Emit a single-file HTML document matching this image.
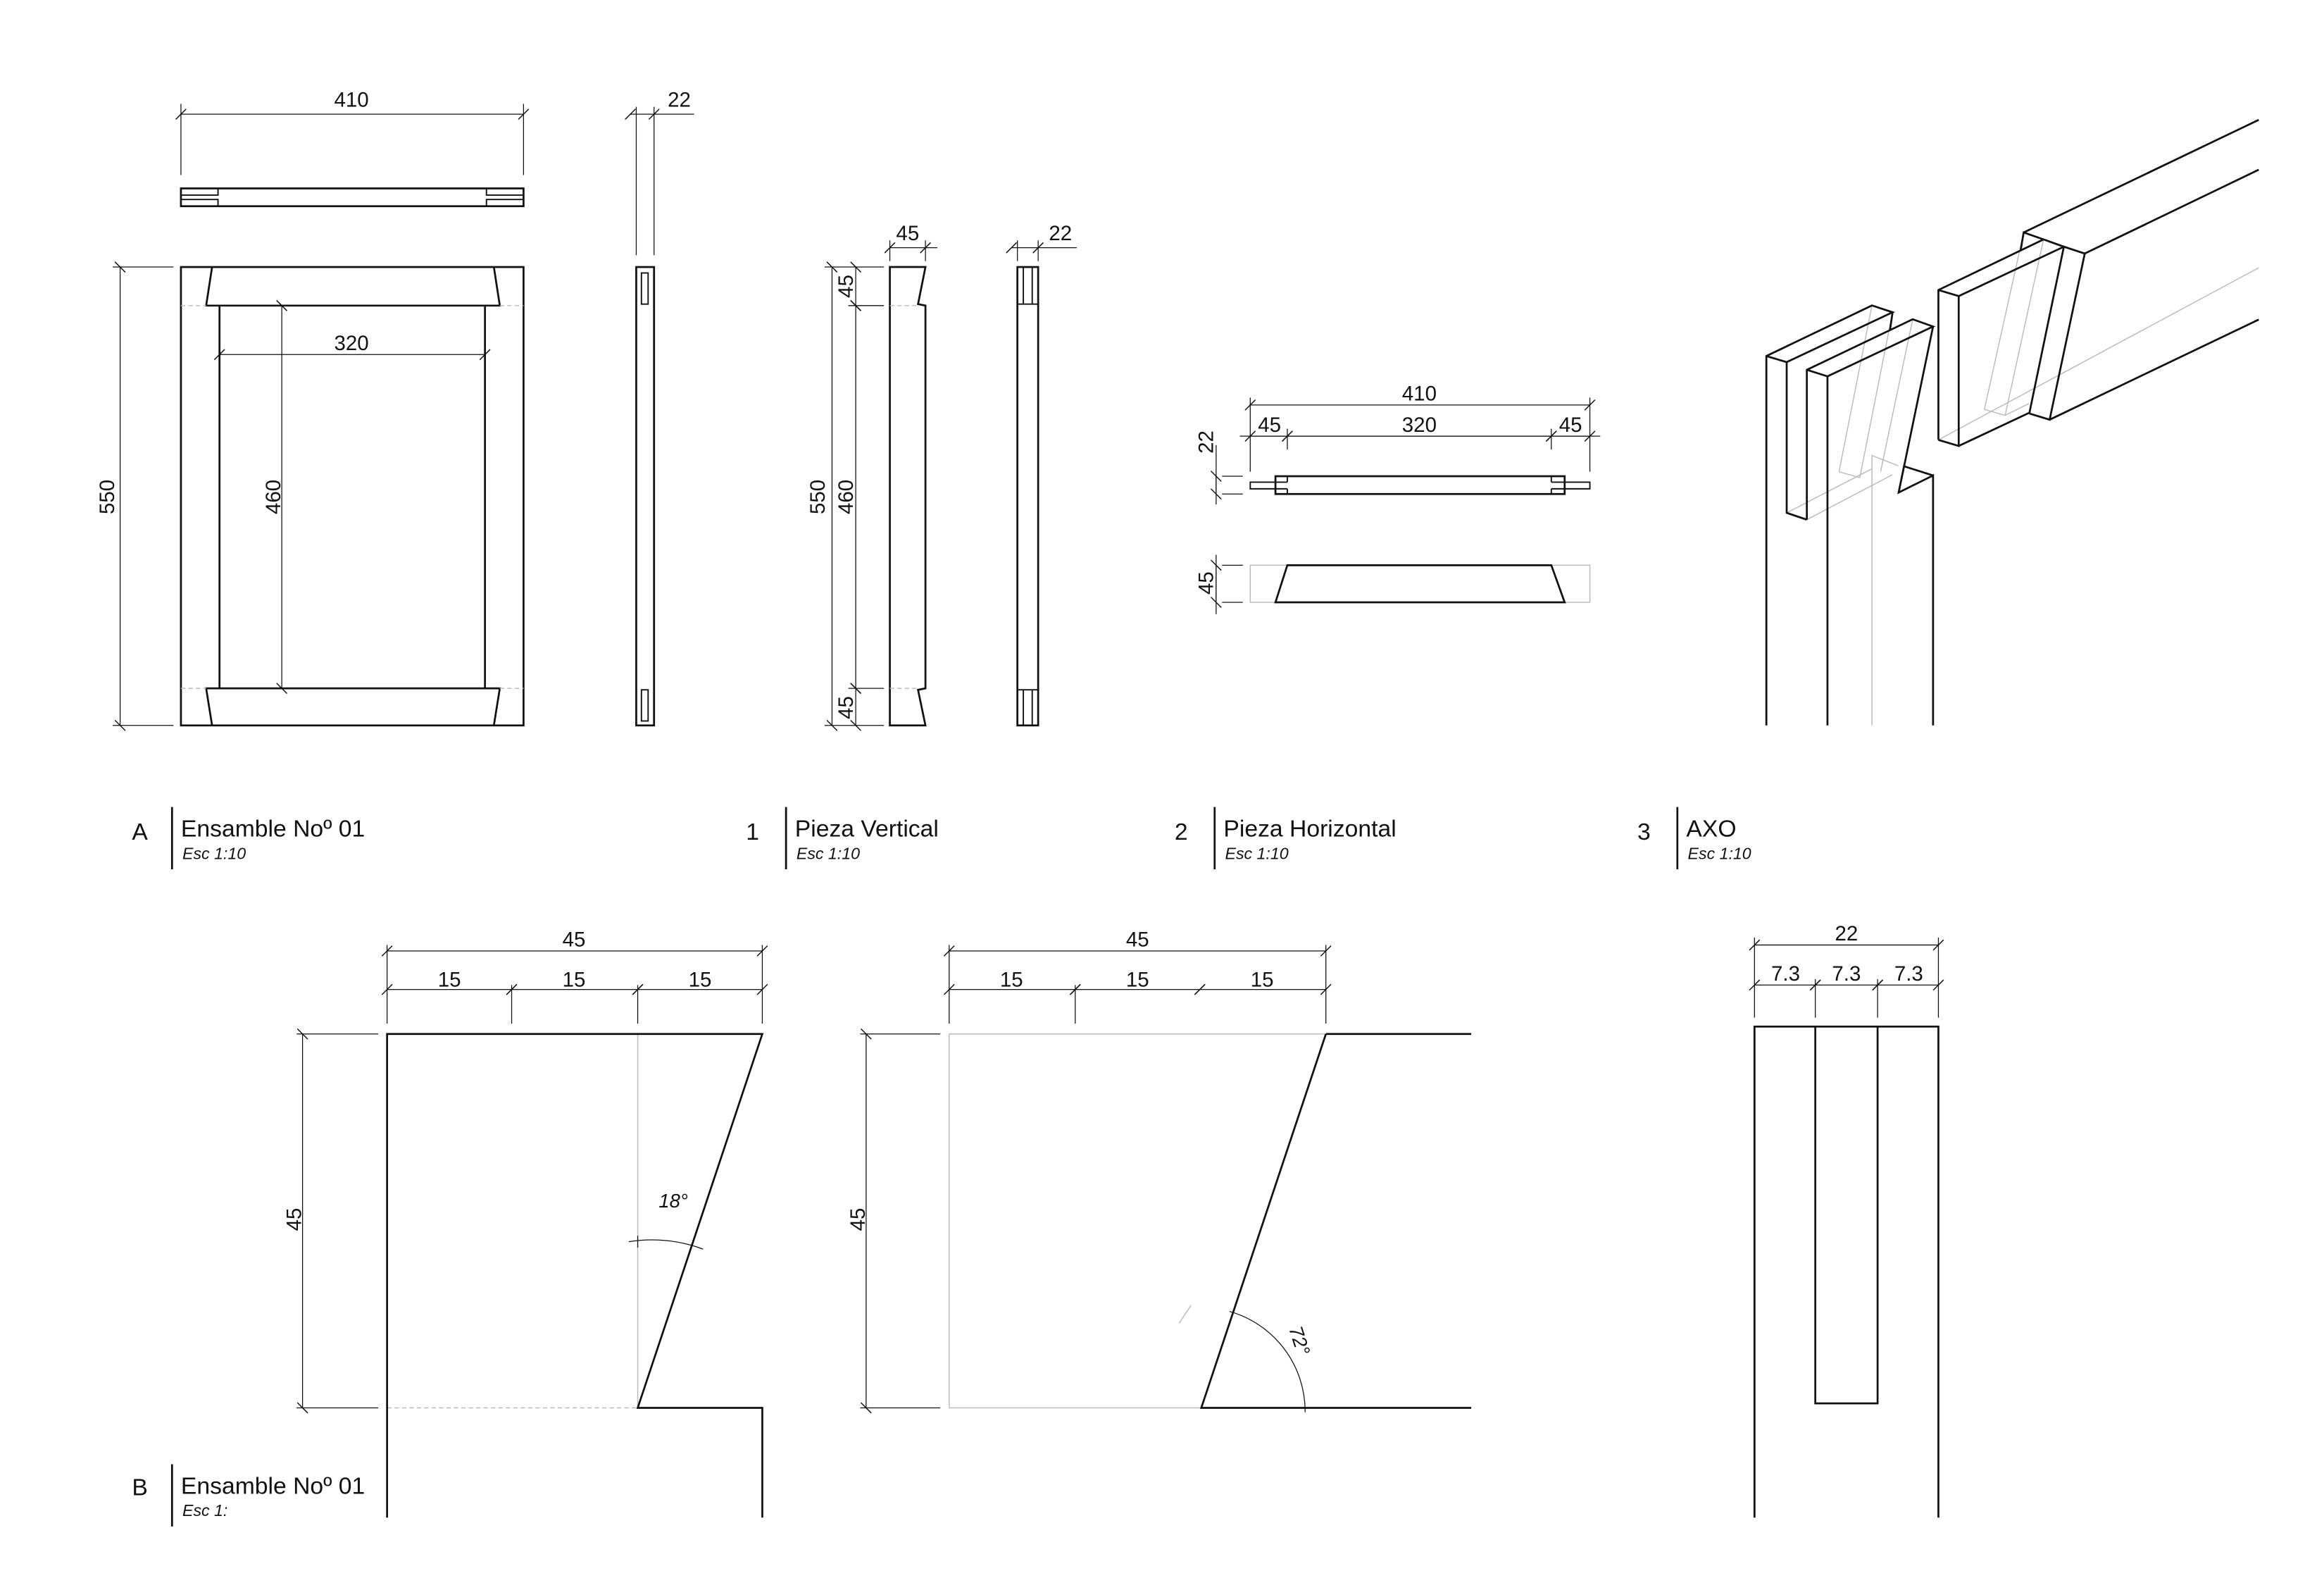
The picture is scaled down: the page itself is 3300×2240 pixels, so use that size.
<!DOCTYPE html>
<html><head><meta charset="utf-8"><style>
html,body{margin:0;padding:0;background:#fff;}
svg{display:block;}
text{font-family:"Liberation Sans",sans-serif;fill:#111;}
.o{stroke:#111;stroke-width:1.3;fill:none;stroke-linejoin:miter;}
.t{stroke:#111;stroke-width:0.9;fill:none;}
.d{stroke:#111;stroke-width:0.6;fill:none;}
.dm{stroke:#111;stroke-width:0.6;fill:none;marker-start:url(#tk);marker-end:url(#tk);}
.g{stroke:#bbb;stroke-width:0.7;fill:none;}
.gd{stroke:#bbb;stroke-width:0.7;fill:none;stroke-dasharray:3 2;}
.dt{font-size:14px;text-anchor:middle;}
.lb{font-size:16px;}
.sc{font-size:11px;font-style:italic;}
</style></head><body>
<svg width="3300" height="2240" viewBox="0 0 1567 1063.7" preserveAspectRatio="none" xmlns="http://www.w3.org/2000/svg">
<defs>
<marker id="tk" markerUnits="userSpaceOnUse" markerWidth="12" markerHeight="12" refX="6" refY="6" orient="auto" viewBox="0 0 12 12">
<path d="M2.5,9.5 L9.5,2.5" stroke="#111" stroke-width="0.7" fill="none"/>
</marker>
</defs>

<!-- ===== A: Frame ===== -->
<rect class="o" x="122" y="127" width="231" height="12"/>
<path class="t" d="M122,131.5 H147 V127 M122,134.5 H147 V139"/>
<path class="t" d="M353,131.5 H328 V127 M353,134.5 H328 V139"/>
<line class="d" x1="122" y1="70" x2="122" y2="118"/><line class="d" x1="353" y1="70" x2="353" y2="118"/>
<line class="dm" x1="122" y1="77" x2="353" y2="77"/>
<text class="dt" x="237" y="72">410</text>
<rect class="o" x="122" y="180" width="231" height="309"/>
<path class="o" d="M143,180 L139,206 H337 L333,180"/>
<path class="o" d="M143,489 L139,464 H337 L333,489"/>
<line class="o" x1="148" y1="206" x2="148" y2="464"/><line class="o" x1="327" y1="206" x2="327" y2="464"/>
<path class="gd" d="M122,206 H139 M337,206 H353 M122,464 H139 M337,464 H353"/>
<line class="d" x1="76" y1="180" x2="117" y2="180"/><line class="d" x1="76" y1="489" x2="117" y2="489"/>
<line class="dm" x1="81" y1="180" x2="81" y2="489"/>
<text class="dt" transform="translate(77,335) rotate(-90)">550</text>
<line class="dm" x1="190" y1="206" x2="190" y2="464"/>
<text class="dt" transform="translate(189,335) rotate(-90)">460</text>
<line class="dm" x1="148" y1="239" x2="327" y2="239"/>
<text class="dt" x="237" y="236">320</text>

<rect class="o" x="429" y="180" width="12" height="309"/>
<rect class="t" x="432.5" y="184" width="4.5" height="21"/>
<rect class="t" x="432.5" y="465" width="4.5" height="21"/>
<line class="d" x1="429" y1="72" x2="429" y2="172"/><line class="d" x1="441" y1="72" x2="441" y2="172"/>
<line class="dm" x1="425" y1="77" x2="441" y2="77"/><line class="d" x1="441" y1="77" x2="468" y2="77"/>
<text class="dt" x="458" y="72">22</text>

<!-- ===== 1 Pieza vertical ===== -->
<path class="o" d="M600,180 H624 L619,205 L624,206 V464 L619,465 L624,489 H600 Z"/>
<path class="gd" d="M600,206 H619 M600,464 H619"/>
<path class="d" d="M556,180 H596 M572,206 H596 M572,464 H596 M556,489 H596"/>
<line class="dm" x1="561" y1="180" x2="561" y2="489"/>
<line class="dm" x1="577" y1="180" x2="577" y2="206"/>
<line class="dm" x1="577" y1="206" x2="577" y2="464"/>
<line class="dm" x1="577" y1="464" x2="577" y2="489"/>
<text class="dt" transform="translate(556,335) rotate(-90)">550</text>
<text class="dt" transform="translate(575,335) rotate(-90)">460</text>
<text class="dt" transform="translate(575,193) rotate(-90)">45</text>
<text class="dt" transform="translate(575,477) rotate(-90)">45</text>
<line class="d" x1="600" y1="162" x2="600" y2="176"/><line class="d" x1="624" y1="162" x2="624" y2="176"/>
<line class="dm" x1="600" y1="167" x2="624" y2="167"/><line class="d" x1="624" y1="167" x2="632" y2="167"/>
<text class="dt" x="612" y="162">45</text>
<rect class="o" x="686" y="180" width="14" height="309"/>
<path class="t" d="M690,180 V205 M696,180 V205 M686,205 H700 M690,489 V465 M696,489 V465 M686,465 H700"/>
<line class="d" x1="686" y1="162" x2="686" y2="176"/><line class="d" x1="700" y1="162" x2="700" y2="176"/>
<line class="dm" x1="682" y1="167" x2="700" y2="167"/><line class="d" x1="700" y1="167" x2="726" y2="167"/>
<text class="dt" x="715" y="162">22</text>

<!-- ===== 2 Pieza horizontal ===== -->
<path class="o" d="M860,321 H1055 V333 H860 Z"/>
<path class="t" d="M860,325 H843 V329.5 H860 M868,321 V325 M868,329.5 V333 M860,325 H868 M860,329.5 H868"/>
<path class="t" d="M1055,325 H1072 V329.5 H1055 M1046,321 V325 M1046,329.5 V333 M1055,325 H1046 M1055,329.5 H1046"/>
<path class="d" d="M843,268 V318 M1072,268 V318 M868,289 V303 M1046,289 V303"/>
<line class="dm" x1="843" y1="273" x2="1072" y2="273"/>
<line class="dm" x1="843" y1="294" x2="868" y2="294"/>
<line class="dm" x1="868" y1="294" x2="1046" y2="294"/>
<line class="dm" x1="1046" y1="294" x2="1072" y2="294"/>
<line class="d" x1="836" y1="294" x2="1079" y2="294"/>
<text class="dt" x="957" y="270">410</text>
<text class="dt" x="856" y="291">45</text>
<text class="dt" x="957" y="291">320</text>
<text class="dt" x="1059" y="291">45</text>
<path class="d" d="M824,321 H838 M824,333 H838"/>
<line class="d" x1="820" y1="300" x2="820" y2="340"/>
<line class="dm" x1="820" y1="321" x2="820" y2="333"/>
<text class="dt" transform="translate(818,298) rotate(-90)">22</text>
<rect class="g" x="843" y="381" width="229" height="25"/>
<path class="o" d="M868,381 H1046 L1055,406 H860 Z"/>
<path class="d" d="M824,381 H838 M824,406 H838"/>
<line class="d" x1="820" y1="374" x2="820" y2="414"/>
<line class="dm" x1="820" y1="381" x2="820" y2="406"/>
<text class="dt" transform="translate(818,393) rotate(-90)">45</text>

<!-- ===== 3 AXO ===== -->
<g class="g">
<path d="M1204.7,345.7 L1262.2,316 M1218.3,350.3 L1276,320 M1262.2,306.6 V489"/>
<path d="M1262.2,205.9 L1240,318 M1276.1,210.5 L1254,322 M1289.7,215.2 L1268,318 M1240,318 L1254,322 M1262,307 L1280,314"/>
<path d="M1307,296.5 L1523,180.5"/>
<path d="M1364.5,156.7 L1338,276 M1377.9,161.4 L1352,280 M1338,276 L1352,280 M1352,280 L1368,272"/>
</g>
<g class="o">
<path d="M1191,489 V240 L1262.2,205.9 L1276.1,210.5 L1204.7,244.1 V345.7 L1218.3,350.3"/>
<path d="M1191,240 L1204.7,244.1 M1276.1,210.5 L1274.3,222.8"/>
<path d="M1218.3,350.3 V249.3 L1289.7,215.2 L1303.4,220.1 L1232.2,253.7 V489 M1218.3,249.3 L1232.2,253.7"/>
<path d="M1303.4,220.1 L1280.2,332 L1303.4,320.5 V489 M1280.2,332 L1283.8,314.3 L1303.4,320.5"/>
<path d="M1307,296.5 V195.5 L1377.9,161.4 L1391.6,166.3 L1320.7,199.6 V300.6 L1307,296.5 M1307,195.5 L1320.7,199.6"/>
<path d="M1320.7,300.6 L1368.4,278.2 L1391.6,166.3 L1405.7,170.9 L1382,282.9 L1368.4,278.8"/>
<path d="M1382,282.9 L1523,215.4 M1405.7,170.9 L1523,114.4"/>
<path d="M1377.9,161.4 L1364.5,156.7 L1362.4,169 M1364.5,156.7 L1523,80.8"/>
</g>

<!-- ===== labels ===== -->
<text class="lb" x="89" y="566">A</text>
<line class="o" x1="116" y1="544" x2="116" y2="586"/>
<text class="lb" x="122" y="564">Ensamble Noº 01</text>
<text class="sc" x="123" y="579">Esc 1:10</text>
<text class="lb" x="503" y="566">1</text>
<line class="o" x1="530" y1="544" x2="530" y2="586"/>
<text class="lb" x="536" y="564">Pieza Vertical</text>
<text class="sc" x="537" y="579">Esc 1:10</text>
<text class="lb" x="792" y="566">2</text>
<line class="o" x1="819" y1="544" x2="819" y2="586"/>
<text class="lb" x="825" y="564">Pieza Horizontal</text>
<text class="sc" x="826" y="579">Esc 1:10</text>
<text class="lb" x="1104" y="566">3</text>
<line class="o" x1="1131" y1="544" x2="1131" y2="586"/>
<text class="lb" x="1137" y="564">AXO</text>
<text class="sc" x="1138" y="579">Esc 1:10</text>
<text class="lb" x="89" y="1008">B</text>
<line class="o" x1="116" y1="987" x2="116" y2="1029"/>
<text class="lb" x="122" y="1007">Ensamble Noº 01</text>
<text class="sc" x="123" y="1022">Esc 1:</text>

<!-- ===== B detail 1 ===== -->
<line class="g" x1="430" y1="697" x2="430" y2="949"/>
<line class="gd" x1="261" y1="949" x2="430" y2="949"/>
<path class="o" d="M261,1023 V697 H514 L430,949 H514 V1023"/>
<path class="d" d="M261,637 V690 M514,637 V690 M345,664 V690 M430,664 V690"/>
<line class="dm" x1="261" y1="641" x2="514" y2="641"/>
<line class="dm" x1="261" y1="667" x2="345" y2="667"/>
<line class="dm" x1="345" y1="667" x2="430" y2="667"/>
<line class="dm" x1="430" y1="667" x2="514" y2="667"/>
<text class="dt" x="387" y="638">45</text>
<text class="dt" x="303" y="665">15</text>
<text class="dt" x="387" y="665">15</text>
<text class="dt" x="472" y="665">15</text>
<path class="d" d="M200,697 H255 M200,949 H255"/>
<line class="dm" x1="204" y1="697" x2="204" y2="949"/>
<text class="dt" transform="translate(203,822) rotate(-90)">45</text>
<path class="d" d="M424,837 Q450,833 474,842"/>
<line class="d" x1="430" y1="833" x2="430" y2="841"/>
<text class="dt" x="454" y="814" style="font-style:italic;font-size:13px">18°</text>

<!-- ===== B detail 2 ===== -->
<path class="g" d="M640,697 H894 M640,949 H810 M640,697 V949"/>
<path class="o" d="M894,697 H992 M894,697 L810,949 H992"/>
<path class="d" d="M640,637 V690 M894,637 V690 M725,664 V690"/>
<line class="dm" x1="640" y1="641" x2="894" y2="641"/>
<line class="dm" x1="640" y1="667" x2="725" y2="667"/>
<line class="dm" x1="725" y1="667" x2="809" y2="667"/>
<line class="dm" x1="809" y1="667" x2="894" y2="667"/>
<text class="dt" x="767" y="638">45</text>
<text class="dt" x="682" y="665">15</text>
<text class="dt" x="767" y="665">15</text>
<text class="dt" x="851" y="665">15</text>
<path class="d" d="M580,697 H634 M580,949 H634"/>
<line class="dm" x1="584" y1="697" x2="584" y2="949"/>
<text class="dt" transform="translate(583,822) rotate(-90)">45</text>
<path class="d" d="M829,884 A70,70 0 0 1 880,952"/>
<line class="g" x1="803" y1="880" x2="795" y2="892"/>
<text class="dt" transform="translate(872,905) rotate(72)" style="font-style:italic;font-size:13px">72°</text>

<!-- ===== B detail 3 ===== -->
<path class="o" d="M1183,1023 V692 H1307 V1023"/>
<path class="o" d="M1224,692 V946 H1266 V692"/>
<path class="d" d="M1183,632 V686 M1307,632 V686 M1224,660 V686 M1266,660 V686"/>
<line class="dm" x1="1183" y1="637" x2="1307" y2="637"/>
<line class="dm" x1="1183" y1="664" x2="1224" y2="664"/>
<line class="dm" x1="1224" y1="664" x2="1266" y2="664"/>
<line class="dm" x1="1266" y1="664" x2="1307" y2="664"/>
<text class="dt" x="1245" y="634">22</text>
<text class="dt" x="1204" y="661">7.3</text>
<text class="dt" x="1245" y="661">7.3</text>
<text class="dt" x="1287" y="661">7.3</text>
</svg>
</body></html>
